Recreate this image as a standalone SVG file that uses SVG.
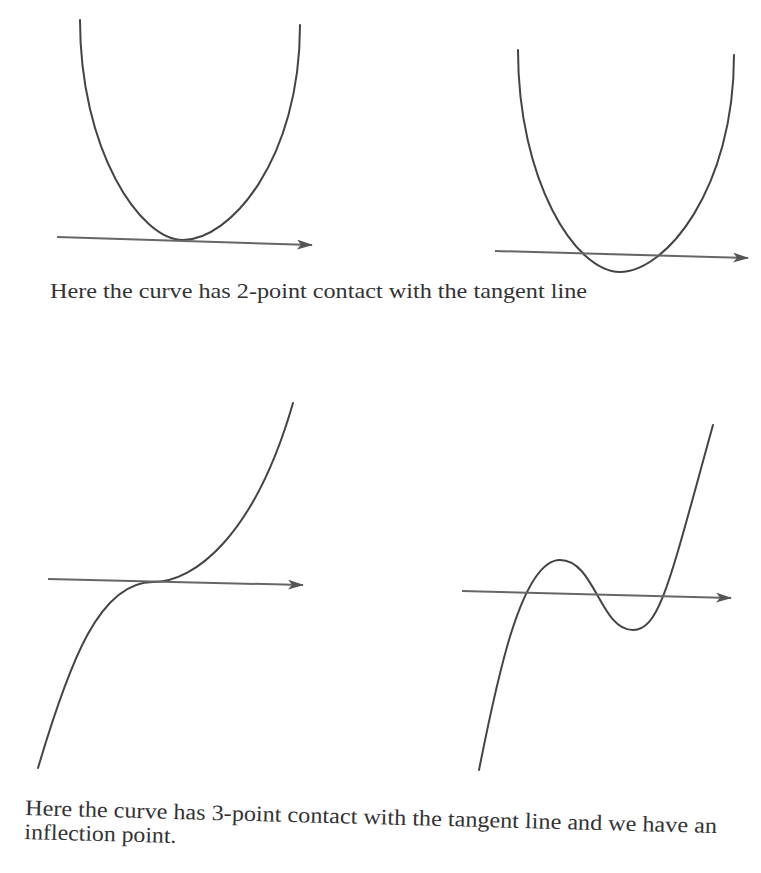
<svg xmlns="http://www.w3.org/2000/svg" width="761" height="873" viewBox="0 0 761 873">
  <defs>
    <marker id="arrow" markerUnits="userSpaceOnUse" markerWidth="18" markerHeight="12" refX="15" refY="5" orient="auto">
      <path d="M0,0 L16,5 L0,10 L4,5 Z" fill="#555"/>
    </marker>
    <style>
      .curve { fill: none; stroke: #444; stroke-width: 2; stroke-linecap: round; }
      .tangent { fill: none; stroke: #666; stroke-width: 2; marker-end: url(#arrow); }
      .cap { font-family: "Liberation Serif", "Times New Roman", serif; font-size: 22px; fill: #333; }
    </style>
  </defs>
  <rect width="761" height="873" fill="#ffffff"/>

  <g id="panel-top-left">
    <path class="curve" d="M80,20 C80,150 140,240 183,240 C230,240 300,160 300,25"/>
  </g>
  <g id="panel-top-right">
    <path class="curve" d="M518,50 C518,180 575,272 620,272 C665,272 734,190 734,55"/>
  </g>
  <g id="panel-bottom-left">
    <path class="curve" d="M38,768 C70,660 100,582 153,582 C195,582 255,535 293,403"/>
  </g>
  <g id="panel-bottom-right">
    <path class="curve" d="M479,770 C495,690 520,560 560,560 C595,560 600,630 633,630 C660,630 670,580 713,425"/>
  </g>

  <g id="connectors">
    <line class="tangent" x1="57" y1="237" x2="312" y2="245"/>
    <line class="tangent" x1="495" y1="251" x2="748" y2="258"/>
    <line class="tangent" x1="48" y1="579" x2="303" y2="585"/>
    <line class="tangent" x1="462" y1="591" x2="731" y2="598"/>
  </g>

  <g id="captions">
    <text class="cap" x="50" y="298" textLength="537" lengthAdjust="spacingAndGlyphs">Here the curve has 2-point contact with the tangent line</text>
    <g transform="rotate(1.5 25 815)">
      <text class="cap" x="25" y="815" textLength="692" lengthAdjust="spacingAndGlyphs">Here the curve has 3-point contact with the tangent line and we have an</text>
      <text class="cap" x="25" y="839" textLength="152" lengthAdjust="spacingAndGlyphs">inflection point.</text>
    </g>
  </g>
</svg>
